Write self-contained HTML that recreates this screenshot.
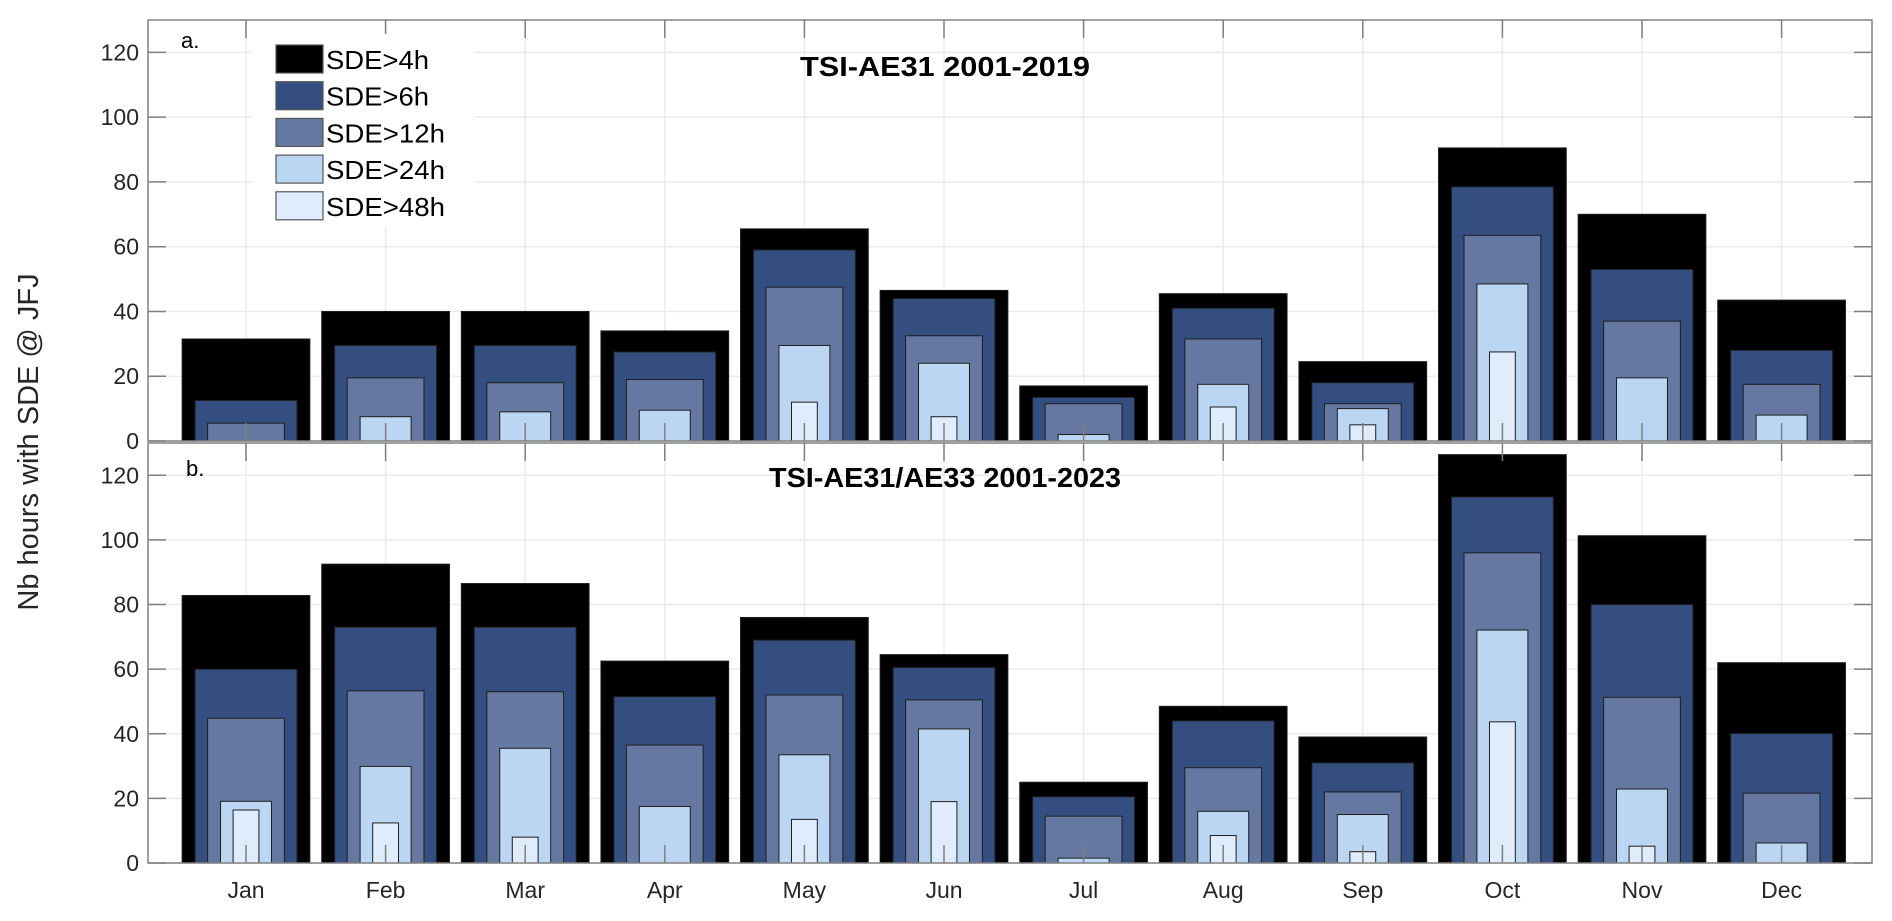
<!DOCTYPE html>
<html><head><meta charset="utf-8"><style>
html,body{margin:0;padding:0;background:#fff;}
svg{display:block;font-family:"Liberation Sans",Arial,sans-serif;}
</style></head>
<body>
<svg id="chart" width="1892" height="921" viewBox="0 0 1892 921" xmlns="http://www.w3.org/2000/svg">
<text x="0" y="0" transform="translate(38,442) rotate(-90)" text-anchor="middle" font-size="29" fill="#262626">Nb hours with SDE @ JFJ</text>
</svg>
<script>
const months = ["Jan","Feb","Mar","Apr","May","Jun","Jul","Aug","Sep","Oct","Nov","Dec"];
const seriesNames = ["SDE>4h","SDE>6h","SDE>12h","SDE>24h","SDE>48h"];
const yTicks = [0,20,40,60,80,100,120];
// Panel a: TSI-AE31 2001-2019
const a4h  = [31.5,40,40,34,65.5,46.5,17,45.5,24.5,90.5,70,43.5];
const a6h  = [12.5,29.5,29.5,27.5,59,44,13.5,41,18,78.5,53,28];
const a12h = [5.5,19.5,18,19,47.5,32.5,11.5,31.5,11.5,63.5,37,17.5];
const a24h = [0,7.5,9,9.5,29.5,24,2,17.5,10,48.5,19.5,8];
const a48h = [0,0,0,0,12,7.5,0,10.5,5,27.5,0,0];
// Panel b: TSI-AE31/AE33 2001-2023
const b4h  = [82.8,92.5,86.5,62.5,76,64.5,25,48.5,39,126.4,101.3,62];
const b6h  = [60,73,73,51.5,69,60.5,20.5,44,31,113.3,80,40.1];
const b12h = [44.8,53.3,53,36.5,52,50.5,14.5,29.5,22,96,51.3,21.6];
const b24h = [19.1,29.9,35.5,17.5,33.5,41.5,1.5,16,15,72.1,22.9,6.2];
const b48h = [16.4,12.4,8,0,13.5,19,0,8.5,3.5,43.7,5.2,0];

const NS = "http://www.w3.org/2000/svg";
const svg = document.getElementById("chart");
const colors = ["#000000","#344f7f","#6578a2","#bad6f2","#dfecfb"];
const widths = [0.915,0.73,0.55,0.365,0.185];
const X0 = 148, X1 = 1872, M0 = 246, MSTEP = 139.6;
function xScale(i){ return M0 + i*MSTEP; }
function mk(tag, attrs, parent){ const e=document.createElementNS(NS,tag); for(const k in attrs) e.setAttribute(k,attrs[k]); (parent||svg).appendChild(e); return e; }

function panel(key, top, bottom, title, label, series){
  const g = mk("g",{});
  
  
  const yScale = v => bottom - v*(bottom-top)/130;
  yTicks.forEach(t=>{ const l=mk("line",{x1:X0,x2:X1,y1:yScale(t),y2:yScale(t),stroke:"#ebebeb","stroke-width":1.5},g);
    
     });
  months.forEach((m,i)=>{ const l=mk("line",{x1:xScale(i),x2:xScale(i),y1:top,y2:bottom,stroke:"#ebebeb","stroke-width":1.5},g);
    
     });
  series.forEach((vals,s)=>{
    vals.forEach((v,i)=>{
      if(v<=0) return;
      const w = widths[s]*MSTEP;
      const r = mk("rect",{x:xScale(i)-w/2,y:yScale(v),width:w,height:bottom-yScale(v),fill:colors[s],stroke:"#1e1e1e","stroke-width":1},g);
      
      
    });
  });
  const tk = "#7f7f7f";
  yTicks.forEach(t=>{
    const y=yScale(t);
    mk("line",{x1:X0,x2:X0+18,y1:y,y2:y,stroke:tk,"stroke-width":1.5},g);
    mk("line",{x1:X1-18,x2:X1,y1:y,y2:y,stroke:tk,"stroke-width":1.5},g);
    const tl = mk("text",{x:X0-9,y:y+8,"text-anchor":"end","font-size":23,fill:"#262626"},g);
    tl.textContent = t;
    
    
  });
  months.forEach((m,i)=>{
    const x=xScale(i);
    mk("line",{x1:x,x2:x,y1:top,y2:top+18,stroke:tk,"stroke-width":1.5},g);
    mk("line",{x1:x,x2:x,y1:bottom,y2:bottom-18,stroke:tk,"stroke-width":1.5},g);
  });
  const box = mk("rect",{x:X0,y:top,width:X1-X0,height:bottom-top,fill:"none",stroke:"#808080","stroke-width":1.5},g);
  
  
  const tt = mk("text",{x:945,y:top+(key==="a"?56:44),"text-anchor":"middle","font-size":28,"font-weight":"bold",fill:"#000",textLength:key==="a"?290:352,lengthAdjust:"spacingAndGlyphs"},g);
  tt.textContent = title;
  
  
  const pl = mk("text",{x:key==="a"?181:186,y:top+(key==="a"?28:33),"font-size":22,fill:"#000"},g);
  pl.textContent = label;
  
  
  return yScale;
}
panel("a",20,441,"TSI-AE31 2001-2019","a.",[a4h,a6h,a12h,a24h,a48h]);
panel("b",443,863,"TSI-AE31/AE33 2001-2023","b.",[b4h,b6h,b12h,b24h,b48h]);

months.forEach((m,i)=>{
  const t = mk("text",{x:xScale(i),y:898,"text-anchor":"middle","font-size":23,fill:"#262626"});
  t.textContent = m;
  
  
});

const lg = mk("g",{});


mk("rect",{x:252,y:34,width:222,height:193,fill:"#fff"},lg);
seriesNames.forEach((n,s)=>{
  const y = 45 + s*36.7;
  const p = mk("rect",{x:276,y:y,width:47,height:28,fill:colors[s],stroke:"#555","stroke-width":1.2},lg);
  
  
  const t = mk("text",{x:326,y:y+24,"font-size":26,fill:"#000",textLength:n.length===6?103:119,lengthAdjust:"spacingAndGlyphs"},lg);
  t.textContent = n;
  
  
});
</script>
</body></html>
